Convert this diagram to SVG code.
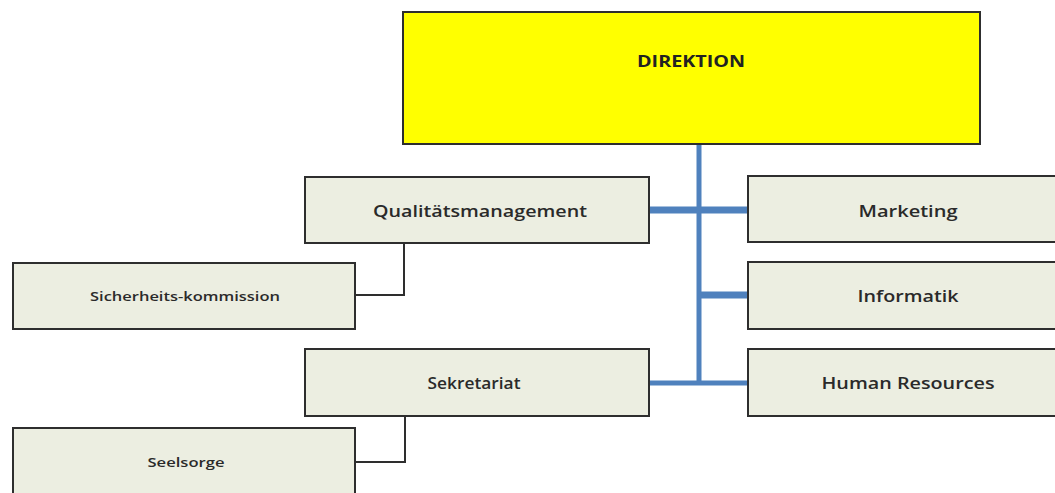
<svg xmlns="http://www.w3.org/2000/svg" width="1055" height="493" viewBox="0 0 1055 493">
<style>
.box{fill:#ECEEE1;stroke:#2E2E2E;stroke-width:2}
.top{fill:#FFFF00;stroke:#2E2E2E;stroke-width:2}
.t{font-family:"Open Sans","Liberation Sans",sans-serif;font-size:17px;font-weight:600;fill:#2A2A2A;text-anchor:middle}
.s{font-family:"Open Sans","Liberation Sans",sans-serif;font-size:13px;font-weight:600;fill:#2A2A2A;text-anchor:middle}
.b{font-family:"Open Sans","Liberation Sans",sans-serif;font-size:16px;font-weight:bold;fill:#222;text-anchor:middle}
.blue{stroke:#4F81BD;fill:none}
.blk{stroke:#2E2E2E;stroke-width:2;fill:none}
</style>
<rect width="1055" height="493" fill="#FFFFFF"/>
<g id="connectors">
<line class="blue" x1="699" y1="144" x2="699" y2="385" stroke-width="5"/>
<line class="blue" x1="650" y1="210" x2="748" y2="210" stroke-width="7"/>
<line class="blue" x1="699" y1="295" x2="748" y2="295" stroke-width="7"/>
<line class="blue" x1="650" y1="383" x2="748" y2="383" stroke-width="5"/>
<polyline class="blk" points="404,243 404,295 355,295"/>
<polyline class="blk" points="405,416 405,462 355,462"/>
</g>
<g id="direktion">
<rect class="top" x="403" y="12" width="577" height="132"/>
<text class="b" x="691" y="67" textLength="108" lengthAdjust="spacingAndGlyphs">DIREKTION</text>
</g>
<g id="qualitaetsmanagement">
<rect class="box" x="305" y="177" width="344" height="66"/>
<text class="t" x="480" y="217" textLength="214" lengthAdjust="spacingAndGlyphs">Qualitätsmanagement</text>
</g>
<g id="marketing">
<rect class="box" x="748" y="176" width="330" height="66"/>
<text class="t" x="908" y="217" textLength="99" lengthAdjust="spacingAndGlyphs">Marketing</text>
</g>
<g id="informatik">
<rect class="box" x="748" y="262" width="330" height="67"/>
<text class="t" x="908" y="302" textLength="101" lengthAdjust="spacingAndGlyphs">Informatik</text>
</g>
<g id="human-resources">
<rect class="box" x="748" y="349" width="330" height="67"/>
<text class="t" x="908" y="389" textLength="173" lengthAdjust="spacingAndGlyphs">Human Resources</text>
</g>
<g id="sekretariat">
<rect class="box" x="305" y="349" width="344" height="67"/>
<text class="t" x="474" y="389" textLength="93" lengthAdjust="spacingAndGlyphs">Sekretariat</text>
</g>
<g id="sicherheitskommission">
<rect class="box" x="13" y="263" width="342" height="66"/>
<text class="s" x="185" y="301" textLength="190" lengthAdjust="spacingAndGlyphs">Sicherheits-kommission</text>
</g>
<g id="seelsorge">
<rect class="box" x="13" y="428" width="342" height="80"/>
<text class="s" x="186" y="467" textLength="77" lengthAdjust="spacingAndGlyphs">Seelsorge</text>
</g>
</svg>
